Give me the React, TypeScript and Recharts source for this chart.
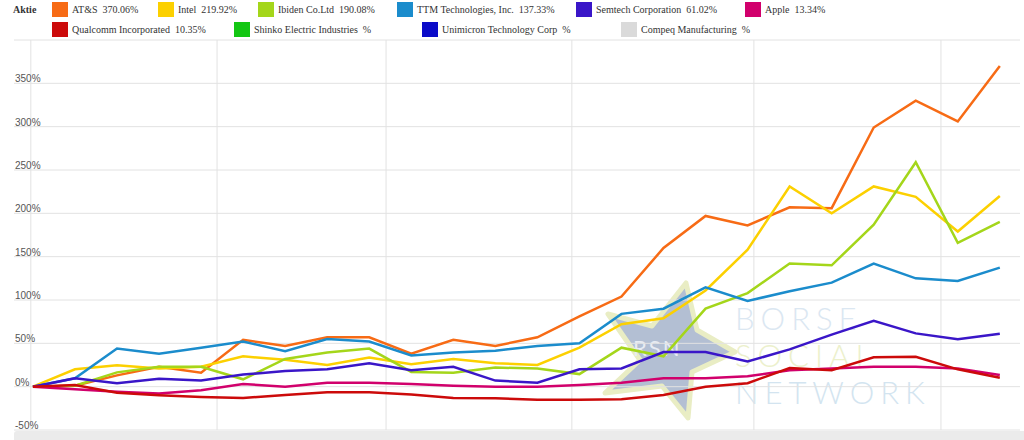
import { LineChart, Line, XAxis, YAxis, CartesianGrid, ReferenceLine } from "recharts";

// weekly points, 0 = start of the comparison
const periods = [0, 1, 2, 3, 4, 5, 6, 7, 8, 9, 10, 11, 12, 13, 14, 15, 16, 17, 18, 19, 20, 21, 22, 23];

const seriesNames = [
  "AT&S",
  "Intel",
  "Ibiden Co.Ltd",
  "TTM Technologies, Inc.",
  "Semtech Corporation",
  "Apple",
  "Qualcomm Incorporated",
  "Shinko Electric Industries",
  "Unimicron Technology Corp",
  "Compeq Manufacturing",
];
const seriesColors = [
  "#f76b15",
  "#fcd000",
  "#a4d61a",
  "#1b8ccc",
  "#3a16c8",
  "#d1006c",
  "#cc0a0a",
  "#13c613",
  "#0a0ac8",
  "#dadada",
];
const legendValues = ["370.06", "219.92", "190.08", "137.33", "61.02", "13.34", "10.35", "", "", ""];

const atsValues = [0, 1, 13, 23, 16, 54, 47, 57, 57, 38, 54, 47, 57, 81, 104, 160, 197, 186, 207, 206, 299, 330, 306, 370.06];
const intelValues = [0, 20, 24.6, 21, 23, 35, 31, 25, 33.5, 26, 32, 27, 25, 45, 72, 79, 111, 158, 231, 200, 231, 219, 179, 219.92];
const ibidenValues = [0, 1, 16.5, 23, 23, 8.5, 32, 39.5, 44, 17, 16, 22, 21, 14.5, 45, 35, 90, 108, 142, 140, 187, 259, 166, 190.08];
const ttmValues = [0, 9.6, 44, 38, 45, 52, 41, 55, 52, 36, 39.5, 41.5, 47, 50, 84, 90, 114.5, 99, 110, 120, 142, 125, 122, 137.33];
const semtechValues = [0, 9.6, 4, 9, 7, 14, 18, 20, 27, 19, 23, 7, 4.6, 20, 21, 40, 40, 29, 43, 60, 76, 61.5, 54.7, 61.02];
const appleValues = [0, -3, -6, -8, -4, 3, 0, 4.6, 4.6, 3, 1, 0, 0, 2, 4.6, 9.6, 9.6, 12, 19, 21, 23, 23, 21, 13.34];
const qualcommValues = [0, 2, -7, -10, -12, -13, -9.6, -6.5, -6.5, -9, -13, -13.5, -15, -15, -14.5, -9.6, 0, 4, 21.5, 19, 34, 34.6, 20, 10.35];

const seriesValues = [atsValues, intelValues, ibidenValues, ttmValues, semtechValues, appleValues, qualcommValues, null, null, null];

const yTicks = [-50, 0, 50, 100, 150, 200, 250, 300, 350, 400];
// month boundaries (vertical grid), in period units
const gridBreaks = [-0.05, 4.38, 8.4, 12.82, 17.15, 21.6];

const data = periods.map((p, i) => {
  const row: Record<string, number> = { period: p };
  seriesValues.forEach((vals, s) => {
    if (vals) row["s" + s] = vals[i];
  });
  return row;
});

// legend placement: [row, left]
const legendSlots = [
  [0, 52], [0, 158], [0, 258], [0, 397], [0, 576], [0, 745],
  [1, 52], [1, 234], [1, 422], [1, 621],
];

const serif = "'Liberation Serif', 'Times New Roman', serif";
const sans = "'Liberation Sans', Arial, sans-serif";

const renderYTick = (props: any) => {
  const v = props.payload.value;
  if (v === 400) return <g key={v} />;
  return (
    <text key={v} x={15} y={props.y - 1} fontSize={10} fill="#555" fontFamily={sans} textAnchor="start">
      {v}%
    </text>
  );
};

function TopLegend() {
  return (
    <div style={{ position: "absolute", left: 0, top: 0, width: 1024, height: 40, fontFamily: serif, fontSize: 10, color: "#333" }}>
      <div style={{ position: "absolute", left: 13, top: 3, fontWeight: "bold", lineHeight: "14px" }}>Aktie</div>
      {seriesNames.map((name, i) => {
        const [row, left] = legendSlots[i];
        return (
          <div key={name} style={{ position: "absolute", left, top: 2 + row * 20, display: "flex", alignItems: "center", whiteSpace: "pre" }}>
            <span style={{ display: "inline-block", width: 16, height: 15, background: seriesColors[i], marginRight: 4 }} />
            <span>{name + "  " + legendValues[i] + "%"}</span>
          </div>
        );
      })}
    </div>
  );
}

function Watermark() {
  return (
    <svg width={1024} height={440} style={{ position: "absolute", left: 0, top: 0 }}>
      <polygon
        points="686,283 697,330 735,352 692,372 688,418 662,386 605,393 640,360 608,314 652,326"
        fill="#b3bfd3"
        stroke="#e9edc4"
        strokeWidth={5}
        strokeLinejoin="round"
      />
      <text x={633} y={356} fontSize={22} fill="#e8ecf3" fontFamily="Lato, sans-serif" letterSpacing={2}>RSN</text>
      <g fontFamily="Lato, 'Open Sans', sans-serif" fontWeight={300} fontSize={31} letterSpacing={6} opacity={0.75}>
        <text x={735} y={330} fill="#cfe0ee">BORSE</text>
        <text x={735} y={367} fill="#e6ecbc">SOCIAL</text>
        <text x={735} y={404} fill="#c5dcec">NETWORK</text>
      </g>
    </svg>
  );
}

export default function App() {
  return (
    <div style={{ position: "absolute", left: 0, top: 0, width: 1024, height: 440, background: "#fff", overflow: "hidden" }}>
      <Watermark />
      <div style={{ position: "absolute", left: 14, top: 431, width: 1010, height: 9, background: "#ebebeb", borderRadius: "3px 0 0 0" }} />
      <div style={{ position: "absolute", left: 0, top: 0 }}>
        <LineChart width={1024} height={440} data={data} margin={{ top: 40, right: 4, bottom: 9, left: 13 }}>
          <CartesianGrid stroke="#e2e2e2" strokeWidth={1} vertical={false} />
          <XAxis
            dataKey="period"
            type="number"
            domain={[-0.45, 23.48]}
            allowDataOverflow
            tick={false}
            tickLine={false}
            axisLine={false}
            height={1}
          />
          <YAxis
            type="number"
            domain={[-50, 400]}
            ticks={yTicks}
            width={1}
            tick={renderYTick}
            tickLine={false}
            axisLine={false}
            interval={0}
          />
          {gridBreaks.map((b) => (
            <ReferenceLine key={b} x={b} stroke="#e2e2e2" strokeWidth={1} ifOverflow="visible" />
          ))}
          {seriesValues.map((vals, s) =>
            vals ? (
              <Line
                key={s}
                type="linear"
                dataKey={"s" + s}
                stroke={seriesColors[s]}
                strokeWidth={2.5}
                dot={false}
                isAnimationActive={false}
              />
            ) : null
          )}
        </LineChart>
      </div>
      <TopLegend />
    </div>
  );
}
